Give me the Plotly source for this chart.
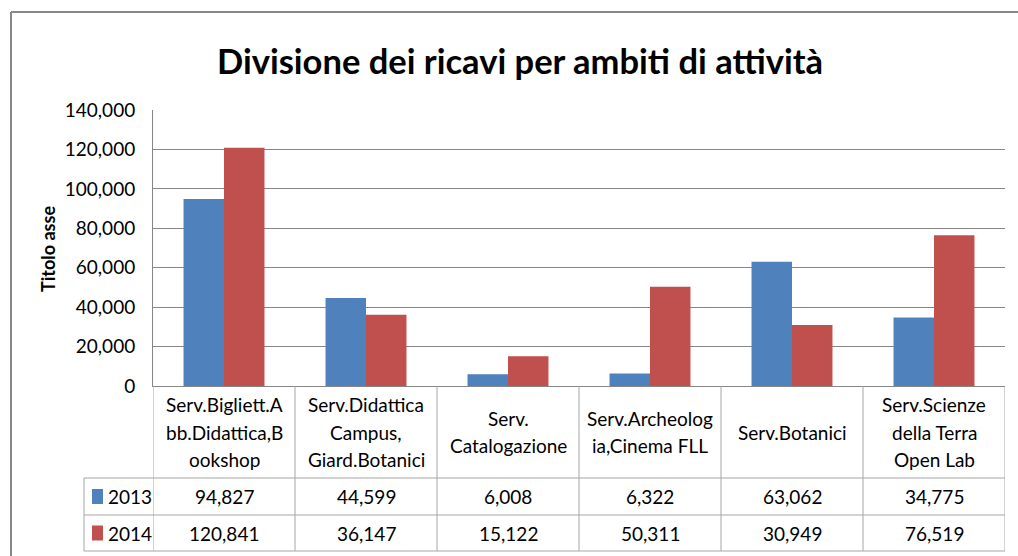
import plotly.graph_objects as go

# ---- data ----
categories = [
    "Serv.Bigliett.Abb.Didattica,Bookshop",
    "Serv.Didattica Campus, Giard.Botanici",
    "Serv. Catalogazione",
    "Serv.Archeologia,Cinema FLL",
    "Serv.Botanici",
    "Serv.Scienze della Terra Open Lab",
]
category_lines = [
    ["Serv.Bigliett.A", "bb.Didattica,B", "ookshop"],
    ["Serv.Didattica", "Campus,", "Giard.Botanici"],
    ["Serv.", "Catalogazione"],
    ["Serv.Archeolog", "ia,Cinema FLL"],
    ["Serv.Botanici"],
    ["Serv.Scienze", "della Terra", "Open Lab"],
]
series_names = ["2013", "2014"]
values_2013 = [94827, 44599, 6008, 6322, 63062, 34775]
values_2014 = [120841, 36147, 15122, 50311, 30949, 76519]
y_ticks = [0, 20000, 40000, 60000, 80000, 100000, 120000, 140000]
title_text = "Divisione dei ricavi per ambiti di attività"
y_title = "Titolo asse"

# ---- styling ----
W, H = 1018, 556
BLUE, RED = "#4F81BD", "#C0504D"
FONT = "Lato"
GRID = "#868686"
TABLE_LINE = "#a6a6a6"
TXT = "#000000"

def X(px):
    return px / W

def Y(py):
    return 1 - py / H

PLOT_L, PLOT_R, PLOT_T, PLOT_B = 153, 1005, 110, 386
HEAD_B, ROW1_B, ROW2_B = 478, 515, 551
LEG_L = 84

fig = go.Figure()
xs = list(range(len(categories)))
fig.add_trace(go.Bar(x=xs, y=values_2013, name=series_names[0], marker_color=BLUE,
                     marker_line_width=0, showlegend=False))
fig.add_trace(go.Bar(x=xs, y=values_2014, name=series_names[1], marker_color=RED,
                     marker_line_width=0, showlegend=False))

shapes = []
annotations = []

# outer chart border (top and left visible)
shapes.append(dict(type="line", xref="paper", yref="paper", x0=X(11), x1=X(1030),
                   y0=Y(12), y1=Y(12), line=dict(color="#878787", width=2)))
shapes.append(dict(type="line", xref="paper", yref="paper", x0=X(11), x1=X(11),
                   y0=Y(12), y1=Y(570), line=dict(color="#878787", width=2)))

# table vertical lines at category boundaries
for i in range(len(categories) + 1):
    shapes.append(dict(type="line", xref="x", yref="paper", x0=i - 0.5, x1=i - 0.5,
                       y0=Y(PLOT_B), y1=Y(ROW2_B), line=dict(color=TABLE_LINE, width=1)))
# legend column left line
shapes.append(dict(type="line", xref="paper", yref="paper", x0=X(LEG_L), x1=X(LEG_L),
                   y0=Y(HEAD_B), y1=Y(ROW2_B), line=dict(color=TABLE_LINE, width=1)))
# horizontal table lines
for py in (HEAD_B, ROW1_B, ROW2_B):
    shapes.append(dict(type="line", xref="paper", yref="paper", x0=X(LEG_L), x1=X(PLOT_R),
                       y0=Y(py), y1=Y(py), line=dict(color=TABLE_LINE, width=1)))

# category header text
head_c = (PLOT_B + HEAD_B) / 2
spacing = 27.5
for i, lines in enumerate(category_lines):
    n = len(lines)
    for k, ln in enumerate(lines):
        py = head_c + (k - (n - 1) / 2) * spacing
        annotations.append(dict(x=i, xref="x", y=Y(py), yref="paper", text=ln,
                                showarrow=False, xanchor="center", yanchor="middle",
                                font=dict(family=FONT, size=19, color=TXT)))

# value rows
row_centers = [(HEAD_B + ROW1_B) / 2, (ROW1_B + ROW2_B) / 2]
for vals, rc, name, col in zip([values_2013, values_2014], row_centers, series_names, [BLUE, RED]):
    for i, v in enumerate(vals):
        annotations.append(dict(x=i, xref="x", y=Y(rc), yref="paper", text=f"{v:,}",
                                showarrow=False, xanchor="center", yanchor="middle",
                                font=dict(family=FONT, size=19, color=TXT)))
    shapes.append(dict(type="rect", xref="paper", yref="paper", x0=X(92), x1=X(103),
                       y0=Y(rc - 7.5), y1=Y(rc + 7.5), fillcolor=col, line=dict(width=0)))
    annotations.append(dict(x=X(106), xref="paper", y=Y(rc), yref="paper", text=name,
                            showarrow=False, xanchor="left", yanchor="middle",
                            font=dict(family=FONT, size=19, color=TXT)))

# title
annotations.append(dict(x=X(520), xref="paper", y=Y(60), yref="paper",
                        text="<b>" + title_text + "</b>",
                        showarrow=False, xanchor="center", yanchor="middle",
                        font=dict(family=FONT, size=34.5, color=TXT)))
# y axis title
annotations.append(dict(x=X(48), xref="paper", y=Y(249), yref="paper",
                        text="<b>" + y_title + "</b>", textangle=-90,
                        showarrow=False, xanchor="center", yanchor="middle",
                        font=dict(family=FONT, size=18, color=TXT)))

fig.update_layout(
    width=W, height=H, autosize=False,
    margin=dict(l=0, r=0, t=0, b=0, pad=0, autoexpand=False),
    paper_bgcolor="white", plot_bgcolor="white",
    barmode="group", bargap=0.43, bargroupgap=0,
    shapes=shapes, annotations=annotations,
    xaxis=dict(domain=[X(PLOT_L), X(PLOT_R)], range=[-0.5, len(categories) - 0.5],
               showticklabels=False, showgrid=False, zeroline=False, automargin=False,
               showline=True, linecolor=GRID, linewidth=1, fixedrange=True),
    yaxis=dict(domain=[Y(PLOT_B), Y(PLOT_T)], range=[0, 140000], automargin=False,
               tickvals=y_ticks, tickformat=",", showgrid=True, gridcolor=GRID,
               gridwidth=1, zeroline=False, showline=True, linecolor=GRID,
               linewidth=1, ticks="", ticklabelstandoff=13,
               tickfont=dict(family=FONT, size=19, color=TXT), fixedrange=True),
)

fig.write_html("out.html", config={"displayModeBar": False},
               post_script="document.body.style.margin='0';document.body.style.overflow='hidden';")
